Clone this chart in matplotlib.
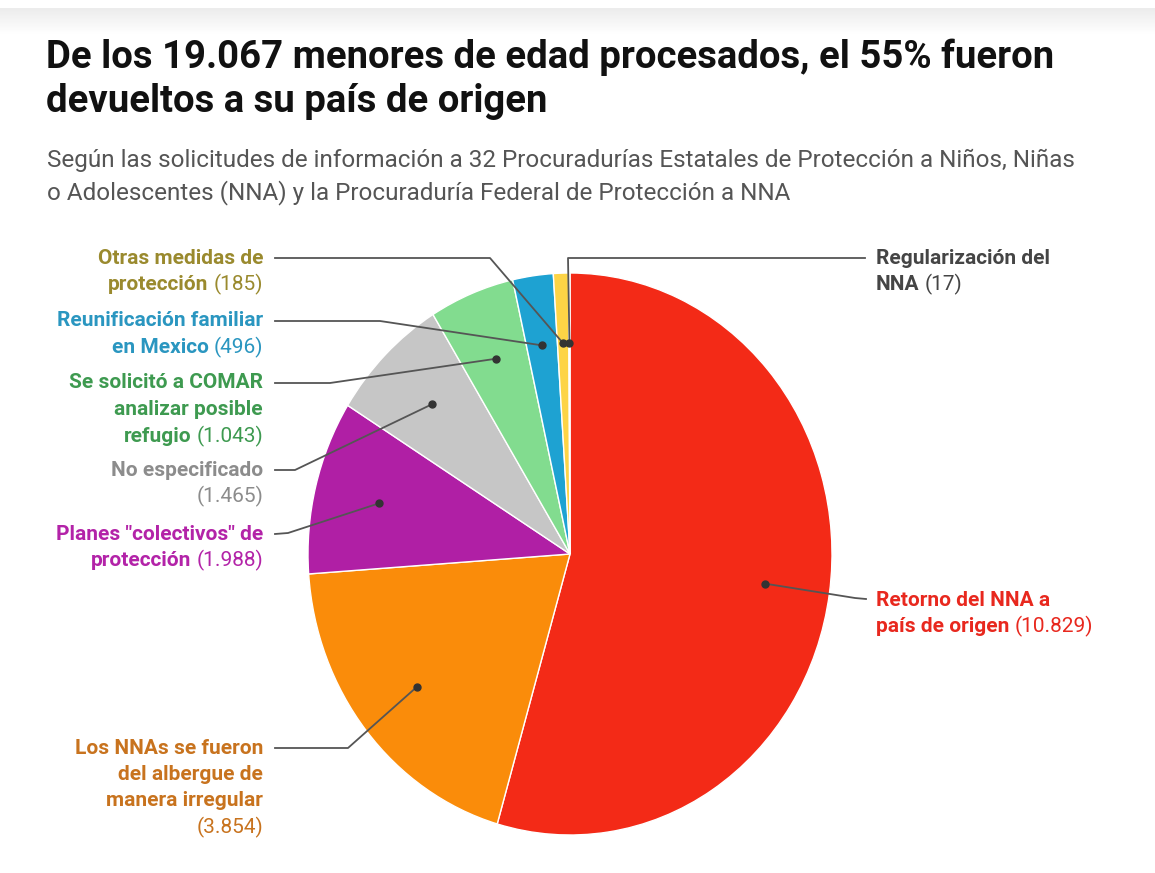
import numpy as np
import matplotlib
matplotlib.use("Agg")
import matplotlib.pyplot as plt

W, H = 1155, 873

# Data
categories = ["Retorno del NNA a país de origen",
              "Los NNAs se fueron del albergue de manera irregular",
              'Planes "colectivos" de protección',
              "No especificado",
              "Se solicitó a COMAR analizar posible refugio",
              "Reunificación familiar en Mexico",
              "Otras medidas de protección",
              "Regularización del NNA"]
values = [10829, 3854, 1988, 1465, 1043, 496, 185, 17]
value_labels = ["(10.829)", "(3.854)", "(1.988)", "(1.465)", "(1.043)", "(496)", "(185)", "(17)"]
slice_colors = ["#F32A17", "#FA8C0A", "#B01FA5", "#C6C6C6", "#82DC8F", "#1EA2D2", "#FDD446", "#FDD446"]
text_colors = ["#E8281E", "#C8731E", "#B323A8", "#8C8C8C", "#3E9A50", "#2A96C0", "#9A8A2E", "#454545"]

# label lines: (bold text, regular text) per row
label_lines = [
    [("Retorno del NNA a", ""), ("país de origen", value_labels[0])],
    [("Los NNAs se fueron", ""), ("del albergue de", ""), ("manera irregular", ""), ("", value_labels[1])],
    [('Planes "colectivos" de', ""), ("protección", value_labels[2])],
    [("No especificado", ""), ("", value_labels[3])],
    [("Se solicitó a COMAR", ""), ("analizar posible", ""), ("refugio", value_labels[4])],
    [("Reunificación familiar", ""), ("en Mexico", value_labels[5])],
    [("Otras medidas de", ""), ("protección", value_labels[6])],
    [("Regularización del", ""), ("NNA", value_labels[7])],
]

# layout in pixels (y from top): label anchor x, first line y, align, leader path start/elbow
label_pos = [(876, 600, "left"), (263, 748, "right"), (263, 534, "right"), (263, 470, "right"),
             (263, 383, "right"), (263, 321, "right"), (263, 258, "right"), (876, 258, "left")]
leader = [[(866, 599), (855, 598)], [(275, 748), (348, 748)], [(275, 534), (288, 533)],
          [(275, 470), (295, 470)], [(275, 383), (330, 383)], [(275, 321), (380, 321)],
          [(275, 258), (490, 258)], [(865, 258), (568, 258)]]
line_h = 26.5
lab_size = 15

fig = plt.figure(figsize=(W / 100, H / 100), dpi=100)
fig.patch.set_facecolor("white")


def fx(x):
    return x / W


def fy(y):
    return 1 - y / H


# top shaded band
band = fig.add_axes([0, fy(34), 1, (34 - 8) / H])
grad = np.linspace(0, 1, 50).reshape(-1, 1)
band.imshow(grad, aspect="auto", cmap=matplotlib.colors.LinearSegmentedColormap.from_list("g", ["#ececec", "#ffffff"]),
            extent=[0, 1, 0, 1])
band.axis("off")

# title and subtitle
fig.text(fx(46), fy(57), "De los 19.067 menores de edad procesados, el 55% fueron",
         fontsize=27.5, fontweight="bold", family="Roboto", color="#111111", va="center")
fig.text(fx(46), fy(102), "devueltos a su país de origen",
         fontsize=27.5, fontweight="bold", family="Roboto", color="#111111", va="center")
fig.text(fx(47), fy(160), "Según las solicitudes de información a 32 Procuradurías Estatales de Protección a Niños, Niñas",
         fontsize=17.5, family="Roboto", color="#555555", va="center")
fig.text(fx(47), fy(193), "o Adolescentes (NNA) y la Procuraduría Federal de Protección a NNA",
         fontsize=17.5, family="Roboto", color="#555555", va="center")

# pie (slightly taller than wide, as in the reference)
ax = fig.add_axes([fx(308), fy(835), (832 - 308) / W, (835 - 273) / H])
wedges, _ = ax.pie(values, colors=slice_colors, startangle=90, counterclock=False,
                   wedgeprops=dict(edgecolor="white", linewidth=1))
ax.set_aspect("auto")
ax.set_xlim(-1, 1)
ax.set_ylim(-1, 1)
ax.axis("off")

fig.canvas.draw()
renderer = fig.canvas.get_renderer()
to_fig = fig.transFigure.inverted()

for i, w in enumerate(wedges):
    mid = np.deg2rad((w.theta1 + w.theta2) / 2)
    dot = ax.transData.transform((0.75 * np.cos(mid), 0.75 * np.sin(mid)))
    dx, dy = to_fig.transform(dot)
    pts = [(fx(p[0]), fy(p[1])) for p in leader[i]] + [(dx, dy)]
    xs, ys = zip(*pts)
    fig.add_artist(plt.Line2D(xs, ys, color="#555555", lw=1.3, transform=fig.transFigure))
    fig.add_artist(plt.Line2D([dx], [dy], marker="o", ms=5, color="#333333", transform=fig.transFigure))

    x0, y0, align = label_pos[i]
    for k, (bold, reg) in enumerate(label_lines[i]):
        y = fy(y0 + k * line_h)
        gap = 5 if bold and reg else 0
        x = x0
        if align == "right":
            if reg:
                t = fig.text(fx(x), y, reg, fontsize=lab_size, family="Roboto", color=text_colors[i],
                             ha="right", va="center")
                x -= t.get_window_extent(renderer).width + gap
            if bold:
                fig.text(fx(x), y, bold, fontsize=lab_size, family="Roboto", fontweight="bold",
                         color=text_colors[i], ha="right", va="center")
        else:
            if bold:
                t = fig.text(fx(x), y, bold, fontsize=lab_size, family="Roboto", fontweight="bold",
                             color=text_colors[i], ha="left", va="center")
                x += t.get_window_extent(renderer).width + gap
            if reg:
                fig.text(fx(x), y, reg, fontsize=lab_size, family="Roboto", color=text_colors[i],
                         ha="left", va="center")

fig.savefig("out.png", dpi=100, facecolor="white")
